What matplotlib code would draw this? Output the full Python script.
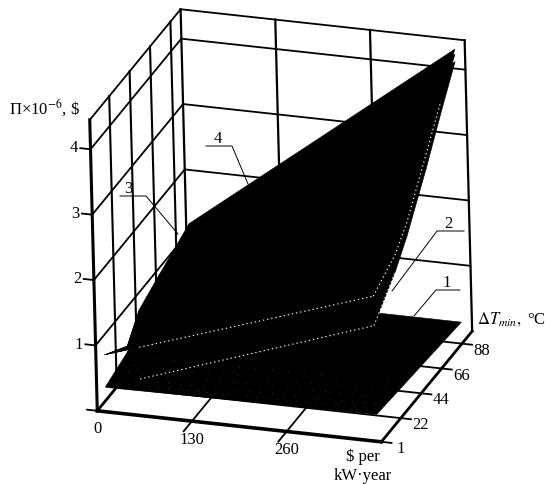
import numpy as np
import matplotlib
matplotlib.use("Agg")
from matplotlib import pyplot as plt
from matplotlib.lines import Line2D
from mpl_toolkits.mplot3d import proj3d

plt.rcParams['font.family'] = ['Liberation Serif', 'DejaVu Serif']
plt.rcParams['mathtext.fontset'] = 'stix'

# axis ticks and limits
x_ticks = [0, 130, 260]
x_max = 390
t_ticks = [1, 22, 44, 66, 88]
t_max = 99
p_ticks = [1, 2, 3, 4]
p_max = 4.45

# surfaces: profit along the left (low tariff) and right (high tariff) edges
x_edges = [12, 384]
t_rows = [1, 25, 38, 60, 77, 93]
s4_left = [0.87, 0.59, 0.91, 1.07, 1.18, 1.29]
s4_right = [2.22, 2.44, 2.70, 3.37, 3.89, 4.41]
s3_left = [0.87, 0.59, 0.89, 1.04, 1.15, 1.25]
s3_right = [2.22, 2.44, 2.70, 3.37, 3.89, 4.33]
s2_left = [0.38, 0.50, 0.65, 0.85, 1.00, 1.10]
s2_right = [1.77, 2.19, 2.50, 3.16, 3.72, 4.22]
s1_rows = [1, 92]
s1_left = [0.38, 0.26]
s1_right = [0.42, 0.26]
speckle_rows = [5, 9, 15, 21, 28]
seam_start = 60

W, H = 545, 485
fig = plt.figure(figsize=(W / 100, H / 100), dpi=100)
ax = fig.add_axes([20.2 / W, -2.3 / H, 507.8 / W, 507.8 / H], projection='3d',
                  computed_zorder=False)
ax.set_proj_type('ortho')
ax.view_init(elev=23.3, azim=-71.1, roll=1.48)
ax.set_xlim(0, x_max)
ax.set_ylim(t_ticks[0], t_max)
ax.set_zlim(0, p_max)
ax.set_box_aspect((299.3, 289.2, 316.9))
ax.set_axis_off()


def line(xs, ts, ps, lw=1.3, color='black', z=1, **kw):
    ax.plot(xs, ts, ps, color=color, lw=lw, zorder=z, **kw)


# back wall
for p in p_ticks + [p_max]:
    line([0, x_max], [t_max, t_max], [p, p])
for x in x_ticks[1:] + [0, x_max]:
    line([x, x], [t_max, t_max], [0, p_max], lw=1.6)
# left wall
for p in p_ticks + [p_max]:
    line([0, 0], [1, t_max], [p, p])
for t in t_ticks[1:]:
    line([0, 0], [t, t], [0, p_max], lw=1.5)
line([0, 0], [1, 1], [0, p_max], lw=2.2)
# floor
for t in t_ticks[1:]:
    line([0, x_max + 14], [t, t], [0, 0])
for x in x_ticks[1:]:
    line([x, x], [-8, t_max], [0, 0])
line([0, x_max], [1, 1], [0, 0], lw=2.6)
line([x_max, x_max], [1, t_max], [0, 0], lw=2)
line([0, 0], [1, t_max], [0, 0], lw=2)
line([x_max, x_max + 14], [1, 1], [0, 0])
# tick stubs on the value axis
for p in p_ticks:
    line([-14, 0], [1, 1], [p, p])
line([-14, 0], [1, 1], [0, 0])


def surface(rows, left, right, z):
    X, T = np.meshgrid(x_edges, rows)
    Z = np.column_stack([left, right])
    ax.plot_surface(X, T, Z, color='black', shade=False, rstride=1, cstride=1,
                    linewidth=0.4, edgecolor='black', zorder=z)


surface(s1_rows, s1_left, s1_right, 2)
surface(t_rows, s2_left, s2_right, 3)
surface(t_rows, s3_left, s3_right, 4)
surface(t_rows, s4_left, s4_right, 5)


def seam(left, right):
    # front edge of a surface, from seam_start to the kink on the right
    start = np.interp(seam_start, x_edges, [left, right])
    line([seam_start, x_edges[1]], [1, 1], [start, right], **dots)


# dotted white seams where the surfaces meet
dots = dict(lw=0.8, color='white', z=6, linestyle=(0, (1.2, 2.6)))
seam(s2_left[0], s2_right[0])
seam(s3_left[0], s3_right[0])
line([x_edges[1]] * 5, t_rows[:5], s3_right[:5], **dots)
line([x_edges[1]] * 2, t_rows[:2], s2_right[:2], **dots)
# fine speckle on the lowest surface
for i, t in enumerate(speckle_rows):
    line(x_edges, [t, t], [s1_left[0], s1_right[0]], lw=0.4, color='white',
         z=6, alpha=0.7, linestyle=(i * 3, (0.8, 17 + 3 * i)))


def tick_label(x, t, p, s):
    xp, yp, _ = proj3d.proj_transform(x, t, p, ax.get_proj())
    ax.annotate(s, (xp, yp), fontsize=12, ha='center', va='center')


# tick labels
for p in p_ticks:
    tick_label(-23, 1, p, str(p))
for x in x_ticks:
    tick_label(x, 1, -0.27, str(x))
for t in t_ticks:
    tick_label(x_max + 27, t, -0.06, str(t))


def px_text(px, py, s, **kw):
    fig.text(px / W, 1 - py / H, s, fontsize=12, ha='center', va='center', **kw)


def leader(xs, ys):
    fig.add_artist(Line2D([v / W for v in xs], [1 - v / H for v in ys],
                          color='black', lw=0.7, zorder=10))


px_text(45, 108, 'Π×10$^{-6}$, \\$')
px_text(511, 319, r'$\Delta T_{min},$ °C')
px_text(363, 457, '\\$ per')
px_text(363, 476, 'kW·year')

px_text(218, 139, '4')
leader([206, 232, 248], [147, 147, 185])
px_text(128, 189, '3')
leader([120, 146, 178], [197, 197, 235])
px_text(448, 224, '2')
leader([464, 437, 392], [232, 232, 292])
px_text(447, 283, '1')
leader([460, 436, 414], [291, 291, 317])

fig.savefig('out.png', dpi=100)
